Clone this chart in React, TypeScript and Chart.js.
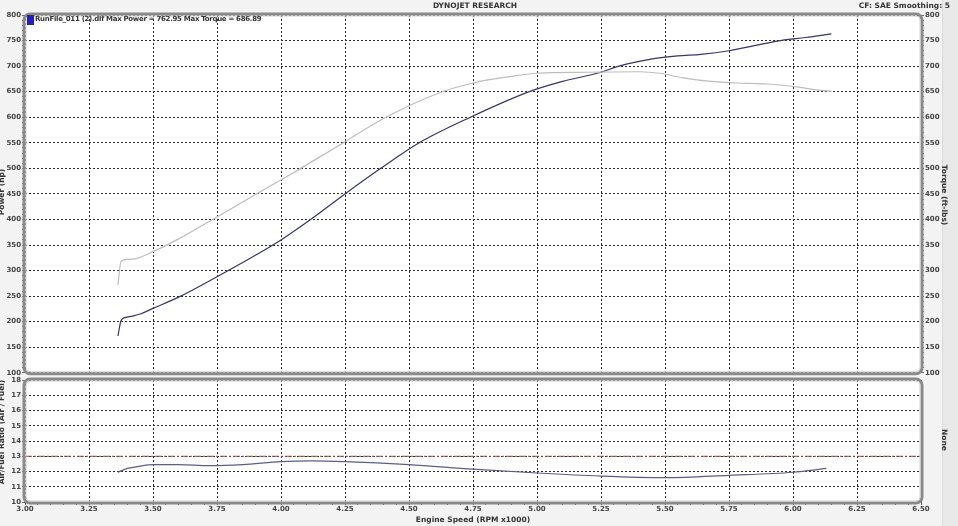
import React, { useEffect, useRef } from 'react';
import { Chart, registerables } from 'chart.js';

Chart.register(...registerables);

// ---- data (engine speed in RPM x1000) ----
const powerRpm = [3.363, 3.375, 3.39, 3.42, 3.45, 3.5, 3.6, 3.75, 3.9, 4.0, 4.11, 4.25, 4.39, 4.54, 4.74, 4.97, 5.1, 5.25, 5.32, 5.45, 5.55, 5.64, 5.75, 5.85, 5.95, 6.05, 6.15];
const powerHp = [172, 202, 208, 211, 215, 226, 248, 288, 330, 360, 398, 450, 500, 550, 600, 650, 670, 688, 700, 714, 720, 723, 730, 740, 750, 756, 763];

const torqueRpm = [3.363, 3.375, 3.4, 3.43, 3.5, 3.6, 3.75, 3.88, 4.05, 4.21, 4.41, 4.62, 4.75, 4.9, 5.0, 5.2, 5.4, 5.48, 5.57, 5.68, 5.78, 5.9, 6.02, 6.1, 6.15];
const torqueFtLbs = [272, 318, 322, 323, 337, 362, 405, 443, 492, 540, 600, 648, 667, 680, 686, 688, 689, 686, 677, 670, 667, 665, 659, 653, 651];

const afrRpm = [3.363, 3.4, 3.45, 3.5, 3.6, 3.72, 3.85, 4.0, 4.12, 4.25, 4.5, 4.75, 5.0, 5.25, 5.5, 5.75, 6.0, 6.13];
const afrValues = [11.95, 12.2, 12.35, 12.45, 12.45, 12.38, 12.45, 12.65, 12.7, 12.65, 12.45, 12.15, 11.9, 11.7, 11.6, 11.75, 11.95, 12.2];
const afrReference = 13;

const rpmRange = [3.0, 6.5];
const powerRange = [100, 800];
const afrRange = [10, 18];

const headerTitle = 'DYNOJET RESEARCH';
const headerRight = 'CF: SAE  Smoothing: 5';
const legendText = 'RunFile_011 (2).dlf Max Power = 762.95 Max Torque = 686.89';

// ---- styling ----
const FONT = 'DejaVu Sans';
const tickFont = { family: FONT, size: 7, weight: 'bold' as const };
const GRID = '#2a2a2a';
const isMult = (v: number, m: number) => Math.abs(v / m - Math.round(v / m)) < 1e-6;

const framePlugin = {
  id: 'frame',
  beforeDraw(chart: any) {
    const { ctx, chartArea: a } = chart;
    ctx.save();
    ctx.fillStyle = '#ffffff';
    ctx.beginPath();
    ctx.roundRect(a.left, a.top, a.right - a.left, a.bottom - a.top, 5);
    ctx.fill();
    ctx.restore();
  },
  afterDraw(chart: any) {
    const { ctx, chartArea: a } = chart;
    ctx.save();
    ctx.strokeStyle = '#8a8a8a';
    ctx.lineWidth = 3;
    ctx.beginPath();
    ctx.roundRect(a.left - 1, a.top - 1, a.right - a.left + 2, a.bottom - a.top + 2, 6);
    ctx.stroke();
    ctx.strokeStyle = '#d0d0d0';
    ctx.lineWidth = 1;
    ctx.beginPath();
    ctx.roundRect(a.left + 1, a.top + 1, a.right - a.left - 2, a.bottom - a.top - 2, 4);
    ctx.stroke();
    ctx.restore();
  },
};

const xAxis = (showLabels: boolean) => ({
  type: 'linear' as const,
  min: rpmRange[0],
  max: rpmRange[1],
  afterFit: (s: any) => {
    s.height = showLabels ? 24 : 0;
  },
  border: { display: false, dash: [2, 2] },
  grid: {
    color: (c: any) => (isMult(c.tick.value, 0.25) ? GRID : 'rgba(0,0,0,0)'),
    lineWidth: 1,
    drawTicks: showLabels,
    tickLength: 3,
    tickColor: '#555',
    tickBorderDash: [],
  },
  ticks: {
    display: showLabels,
    stepSize: 0.05,
    autoSkip: false,
    maxRotation: 0,
    padding: 0,
    font: { family: FONT, size: 7, weight: 'bold' as const },
    color: '#444',
    callback: (v: any) => (isMult(Number(v), 0.25) ? Number(v).toFixed(2) : ''),
  },
});

export default function App() {
  const topRef = useRef<HTMLCanvasElement>(null);
  const botRef = useRef<HTMLCanvasElement>(null);

  useEffect(() => {
    const top = new Chart(topRef.current!, {
      type: 'line',
      data: {
        datasets: [
          {
            label: 'Torque',
            data: torqueRpm.map((x, i) => ({ x, y: torqueFtLbs[i] })),
            borderColor: '#bdbdbd',
            borderWidth: 1.2,
            pointRadius: 0,
            cubicInterpolationMode: 'monotone',
            yAxisID: 'y2',
          },
          {
            label: 'Power',
            data: powerRpm.map((x, i) => ({ x, y: powerHp[i] })),
            borderColor: '#36366a',
            borderWidth: 1.2,
            pointRadius: 0,
            cubicInterpolationMode: 'monotone',
            yAxisID: 'y',
          },
        ],
      },
      options: {
        animation: false,
        responsive: false,
        events: [],
        layout: { padding: { top: 15, bottom: 5, left: 0, right: 0 } },
        plugins: { legend: { display: false }, tooltip: { enabled: false } },
        scales: {
          x: xAxis(false),
          y: {
            position: 'left',
            min: powerRange[0],
            max: powerRange[1],
            afterFit: (s: any) => {
              s.width = 25;
            },
            border: { display: false, dash: [2, 2] },
            grid: {
              color: (c: any) => (isMult(c.tick.value, 50) ? GRID : 'rgba(0,0,0,0)'),
              tickLength: 3,
              tickColor: '#666',
              tickBorderDash: [],
            },
            ticks: {
              stepSize: 10,
              autoSkip: false,
              padding: 1,
              font: tickFont,
              color: '#444',
              callback: (v: any) => (isMult(Number(v), 50) ? String(v) : ''),
            },
          },
          y2: {
            position: 'right',
            min: powerRange[0],
            max: powerRange[1],
            afterFit: (s: any) => {
              s.width = 37;
            },
            border: { display: false },
            grid: {
              drawOnChartArea: false,
              tickLength: 3,
              tickColor: '#666',
            },
            ticks: {
              stepSize: 10,
              autoSkip: false,
              padding: 1,
              font: tickFont,
              color: '#444',
              callback: (v: any) => (isMult(Number(v), 50) ? String(v) : ''),
            },
          },
        },
      },
      plugins: [framePlugin],
    } as any);

    const bot = new Chart(botRef.current!, {
      type: 'line',
      data: {
        datasets: [
          {
            label: 'AFR reference',
            data: [
              { x: rpmRange[0], y: afrReference },
              { x: rpmRange[1], y: afrReference },
            ],
            borderColor: '#a04848',
            borderWidth: 1,
            borderDash: [7, 2, 2, 2],
            pointRadius: 0,
          },
          {
            label: 'Air/Fuel Ratio',
            data: afrRpm.map((x, i) => ({ x, y: afrValues[i] })),
            borderColor: '#5c5c88',
            borderWidth: 1.2,
            pointRadius: 0,
            cubicInterpolationMode: 'monotone',
          },
        ],
      },
      options: {
        animation: false,
        responsive: false,
        events: [],
        layout: { padding: { top: 6, bottom: 0, left: 0, right: 37 } },
        plugins: { legend: { display: false }, tooltip: { enabled: false } },
        scales: {
          x: xAxis(true),
          y: {
            position: 'left',
            min: afrRange[0],
            max: afrRange[1],
            afterFit: (s: any) => {
              s.width = 25;
            },
            border: { display: false, dash: [2, 2] },
            grid: {
              color: GRID,
              tickLength: 3,
              tickColor: '#666',
              tickBorderDash: [],
            },
            ticks: {
              stepSize: 1,
              autoSkip: false,
              padding: 1,
              font: tickFont,
              color: '#444',
            },
          },
        },
      },
      plugins: [framePlugin],
    } as any);

    return () => {
      top.destroy();
      bot.destroy();
    };
  }, []);

  const txt: React.CSSProperties = {
    position: 'absolute',
    fontFamily: FONT,
    fontWeight: 'bold',
    fontSize: 7,
    color: '#333',
    whiteSpace: 'nowrap',
    lineHeight: '9px',
  };
  const rot = (cx: number, cy: number, deg: number): React.CSSProperties => ({
    ...txt,
    left: cx,
    top: cy,
    transform: `translate(-50%, -50%) rotate(${deg}deg)`,
    fontSize: 7.5,
  });

  return (
    <div
      style={{
        position: 'fixed',
        left: 0,
        top: 0,
        width: 958,
        height: 526,
        background: '#f3f3f3',
        overflow: 'hidden',
      }}
    >
      <div style={{ position: 'absolute', left: 942, top: 0, width: 16, height: 526, background: '#e9e9e9', borderLeft: '1px solid #d8d8d8' }} />
      <canvas ref={topRef} width={958} height={378} style={{ position: 'absolute', left: 0, top: 0 }} />
      <canvas ref={botRef} width={958} height={152} style={{ position: 'absolute', left: 0, top: 374 }} />

      <div style={{ ...txt, left: 0, width: 958, top: 1, textAlign: 'center', fontSize: 7.5 }}>
        <span style={{ position: 'relative', left: -4 }}>{headerTitle}</span>
      </div>
      <div style={{ ...txt, right: 8, top: 1, fontSize: 7.5 }}>{headerRight}</div>

      <div style={{ position: 'absolute', left: 27, top: 15, width: 5, height: 8, background: '#1e1ed0', border: '1px solid #2a2a6a' }} />
      <div style={{ ...txt, left: 35, top: 15, letterSpacing: -0.3 }}>{legendText}</div>

      <div style={rot(1, 192, -90)}>Power (hp)</div>
      <div style={rot(944, 195, 90)}>Torque (ft-lbs)</div>
      <div style={rot(1, 432, -90)}>Air/Fuel Ratio (Air / Fuel)</div>
      <div style={rot(944, 440, 90)}>None</div>
      <div style={{ ...txt, left: 0, width: 946, top: 515, textAlign: 'center', fontSize: 7.5 }}>Engine Speed (RPM x1000)</div>
    </div>
  );
}
